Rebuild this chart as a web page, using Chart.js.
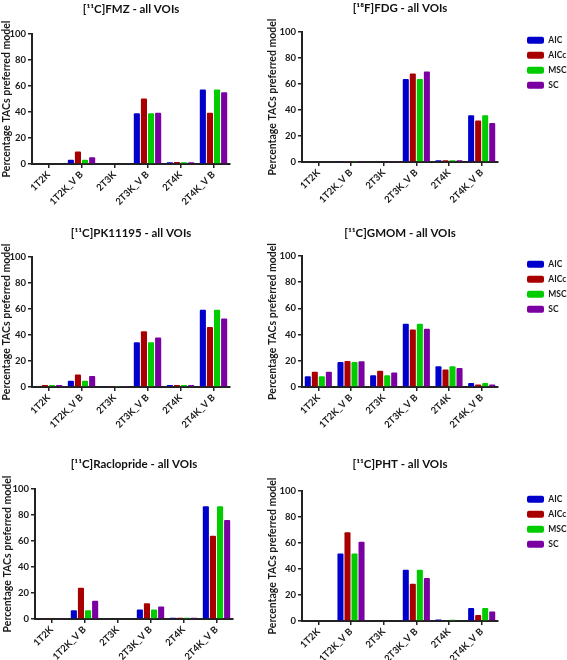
<!DOCTYPE html>
<html><head><meta charset="utf-8">
<script src="https://cdn.jsdelivr.net/npm/chart.js@4.4.1/dist/chart.umd.min.js"></script>
<style>
html,body{margin:0;padding:0;background:#fff;overflow:hidden;width:567px;height:660px;position:relative;}
.p{position:absolute;}
canvas{display:block;}
</style></head><body>
<div class="p" id="w1"><canvas id="c1"></canvas></div>
<div class="p" id="w2"><canvas id="c2"></canvas></div>
<div class="p" id="w3"><canvas id="c3"></canvas></div>
<div class="p" id="w4"><canvas id="c4"></canvas></div>
<div class="p" id="w5"><canvas id="c5"></canvas></div>
<div class="p" id="w6"><canvas id="c6"></canvas></div>
<script>
// ---- data ----
const categories = ['1T2K', '1T2K_V B', '2T3K', '2T3K_V B', '2T4K', '2T4K_V B'];
const seriesNames = ['AIC', 'AICc', 'MSC', 'SC'];
const yTicks = [0, 20, 40, 60, 80, 100];
const yAxisLabel = 'Percentage TACs preferred model';
const panelTitles = ['[¹¹C]FMZ - all VOIs', '[¹⁸F]FDG - all VOIs', '[¹¹C]PK11195 - all VOIs',
                     '[¹¹C]GMOM - all VOIs', '[¹¹C]Raclopride - all VOIs', '[¹¹C]PHT - all VOIs'];

const fmzAIC  = [0, 3.3, 0, 39.0, 1.3, 57.4];
const fmzAICc = [0.6, 9.7, 0, 50.3, 1.6, 39.5];
const fmzMSC  = [0, 3.3, 0, 39.0, 1.3, 57.4];
const fmzSC   = [0, 5.1, 0.6, 39.5, 1.3, 55.1];

const fdgAIC  = [0, 0.7, 0, 63.8, 1.3, 36.0];
const fdgAICc = [0, 0.7, 0, 68.0, 1.3, 32.0];
const fdgMSC  = [0, 0.7, 0, 63.8, 1.3, 36.0];
const fdgSC   = [0, 0.7, 0.7, 69.6, 1.3, 30.0];

const pkAIC  = [0, 4.9, 0.8, 34.4, 1.5, 59.5];
const pkAICc = [1.5, 9.7, 0.8, 42.8, 1.5, 46.2];
const pkMSC  = [1.5, 4.9, 0.8, 34.4, 1.5, 59.5];
const pkSC   = [1.5, 8.5, 0.8, 38.0, 1.5, 52.6];

const gmomAIC  = [8.2, 19.1, 8.9, 48.2, 15.8, 3.1];
const gmomAICc = [11.7, 19.9, 12.5, 43.9, 13.3, 2.0];
const gmomMSC  = [8.2, 19.1, 8.9, 48.2, 15.8, 3.1];
const gmomSC   = [11.7, 19.6, 11.0, 44.4, 14.5, 2.0];

const racAIC  = [0, 6.7, 0, 7.4, 1.0, 86.7];
const racAICc = [0.8, 24.1, 0, 12.1, 1.0, 64.1];
const racMSC  = [0, 6.7, 0, 7.4, 1.0, 86.7];
const racSC   = [0.8, 14.1, 0, 9.7, 1.0, 76.2];

const phtAIC  = [0, 51.9, 0, 39.4, 1.2, 10.0];
const phtAICc = [0, 68.3, 0, 28.6, 0, 4.6];
const phtMSC  = [0, 51.9, 0, 39.4, 1.0, 10.0];
const phtSC   = [0, 60.9, 0, 33.0, 0, 7.4];

// ---- styles / layout ----
const seriesColors = ['#0000cc', '#a80000', '#00cc00', '#7a00a2'];
const FONT = 'Lato';
Chart.defaults.font.family = FONT;
Chart.defaults.color = '#1a1a1a';

const layouts = [
  {id:'c1', wrap:'w1', x:0,   y:0,   w:262, h:215, area:{l:32, r:230, t:34, b:164}, titleTop:2,  legend:false, ypad:0},
  {id:'c2', wrap:'w2', x:262, y:0,   w:305, h:215, area:{l:40, r:236, t:32, b:162}, titleTop:1,  legend:true,  ypad:4},
  {id:'c3', wrap:'w3', x:0,   y:215, w:262, h:220, area:{l:32, r:230, t:42, b:172}, titleTop:11, legend:false, ypad:0},
  {id:'c4', wrap:'w4', x:262, y:215, w:305, h:220, area:{l:40, r:236, t:41, b:172}, titleTop:11, legend:true,  ypad:4},
  {id:'c5', wrap:'w5', x:0,   y:435, w:262, h:225, area:{l:35, r:233, t:54, b:184}, titleTop:22, legend:false, ypad:1},
  {id:'c6', wrap:'w6', x:262, y:435, w:305, h:225, area:{l:40, r:236, t:56, b:186}, titleTop:22, legend:true,  ypad:4}
];
const panelData = [
  [fmzAIC, fmzAICc, fmzMSC, fmzSC],
  [fdgAIC, fdgAICc, fdgMSC, fdgSC],
  [pkAIC, pkAICc, pkMSC, pkSC],
  [gmomAIC, gmomAICc, gmomMSC, gmomSC],
  [racAIC, racAICc, racMSC, racSC],
  [phtAIC, phtAICc, phtMSC, phtSC]
];

const TITLE_SIZE = 11.5, TITLE_LH = 1.2;
const LEG_FONT = 8.5, LEG_BOXW = 17, LEG_BOXH = 7, LEG_PAD = 6.5;
const BOX_X_FROM_AREA = 29; // legend box left, measured from plot right edge
const LEG_SHIFT_Y = -2.5;

layouts.forEach((L, i) => {
  const wrap = document.getElementById(L.wrap);
  const cv = document.getElementById(L.id);
  const spacerW = BOX_X_FROM_AREA - LEG_PAD;
  const W = L.w;
  wrap.style.left = L.x + 'px';
  wrap.style.top = L.y + 'px';
  cv.width = W; cv.height = L.h;
  cv.style.width = W + 'px'; cv.style.height = L.h + 'px';

  const datasets = seriesNames.map((name, k) => ({
    label: name,
    data: panelData[i][k],
    backgroundColor: seriesColors[k],
    borderWidth: 0,
    borderRadius: 1,
    borderSkipped: 'bottom',
    categoryPercentage: 0.86,
    barPercentage: 0.86
  }));

  const scales = {
    x: {
      type: 'category',
      grid: {display: true, drawOnChartArea: false, offset: false, color: '#222', lineWidth: 1.5, tickLength: 4},
      border: {display: true, color: '#222', width: 2},
      ticks: {autoSkip: false, minRotation: 45, maxRotation: 45, padding: 1,
              font: {size: 9.5, weight: 'bold'}, color: '#1a1a1a'},
      afterFit(s) { s.height = L.h - L.area.b; }
    },
    y: {
      min: 0, max: 100,
      afterBuildTicks(s) { s.ticks = yTicks.map(v => ({value: v})); },
      grid: {display: true, drawOnChartArea: false, color: '#222', lineWidth: 1.5, tickLength: 4},
      border: {display: true, color: '#222', width: 2},
      ticks: {padding: 2, font: {size: 9.5, weight: 'bold'}, color: '#1a1a1a'},
      title: {display: true, text: yAxisLabel, padding: {top: L.ypad, bottom: 0},
              font: {size: 10.5, weight: 'bold'}, color: '#1a1a1a'},
      afterFit(s) { s.width = L.area.l; }
    }
  };
  if (L.legend) {
    scales.spacer = {
      type: 'linear', position: 'right', display: true,
      grid: {display: false}, border: {display: false}, ticks: {display: false},
      afterFit(s) { s.width = spacerW; }
    };
  }

  const chart = new Chart(cv, {
    type: 'bar',
    data: {labels: categories, datasets},
    options: {
      responsive: false,
      animation: false,
      devicePixelRatio: 1,
      layout: {padding: {left: 0, top: 0, bottom: 0, right: L.legend ? 0 : (L.w - L.area.r)}},
      plugins: {
        title: {
          display: true, text: panelTitles[i], fullSize: false,
          font: {size: TITLE_SIZE, weight: 'bold', lineHeight: TITLE_LH}, color: '#111',
          padding: {top: L.titleTop, bottom: L.area.t - L.titleTop - TITLE_SIZE * TITLE_LH}
        },
        legend: {
          display: L.legend, position: 'right', align: 'start', fullSize: false,
          labels: {boxWidth: LEG_BOXW, boxHeight: LEG_BOXH, padding: LEG_PAD,
                   useBorderRadius: true, borderRadius: 2,
                   font: {size: LEG_FONT, weight: 'bold'}, color: '#1a1a1a'}
        },
        tooltip: {enabled: false}
      },
      scales
    }
  });

  if (L.legend) {
    // fix the legend column width so the plot keeps its place
    const lg = chart.legend;
    const legendW = W - L.area.r - spacerW;
    const origFit = lg.fit.bind(lg);
    lg.fit = function () { origFit(); this.width = legendW; };
    const origDraw = lg.draw.bind(lg);
    lg.draw = function () {
      const ctx = this.ctx;
      ctx.save(); ctx.translate(0, LEG_SHIFT_Y); origDraw(); ctx.restore();
    };
    chart.update();
  }
});
</script>
</body></html>
